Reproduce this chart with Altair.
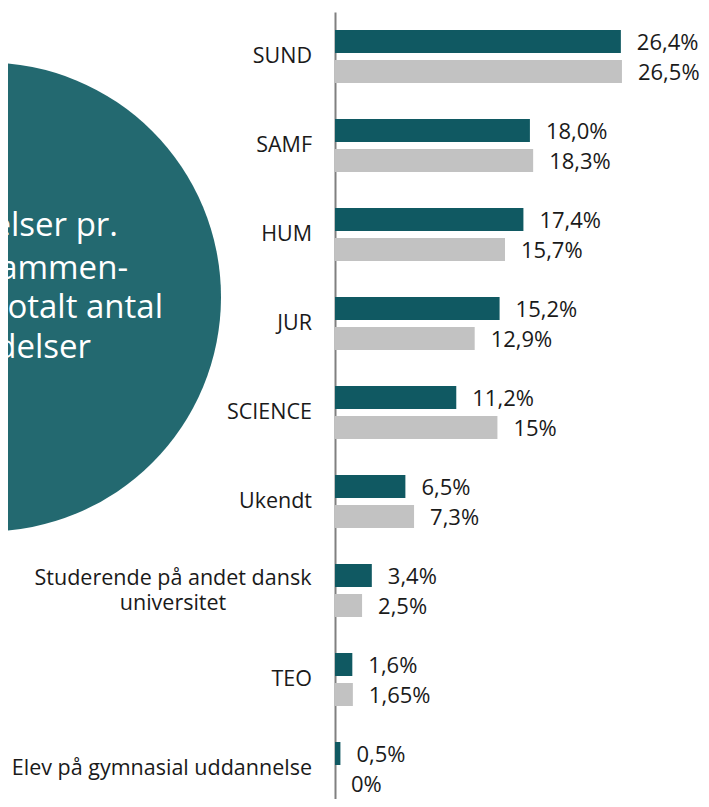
import altair as alt
import pandas as pd

categories = ["SUND", "SAMF", "HUM", "JUR", "SCIENCE", "Ukendt",
              "Studerende på andet dansk universitet", "TEO",
              "Elev på gymnasial uddannelse"]
series_a = [26.4, 18.0, 17.4, 15.2, 11.2, 6.5, 3.4, 1.6, 0.5]
labels_a = ["26,4%", "18,0%", "17,4%", "15,2%", "11,2%", "6,5%", "3,4%", "1,6%", "0,5%"]
series_b = [26.5, 18.3, 15.7, 12.9, 15.0, 7.3, 2.5, 1.65, 0.0]
labels_b = ["26,5%", "18,3%", "15,7%", "12,9%", "15%", "7,3%", "2,5%", "1,65%", "0%"]
circle_lines = ["elser pr.", "ammen-", "otalt antal", "delser"]
two_line_cat = "Studerende på andet dansk universitet"
two_line_text = ["Studerende på andet dansk", "universitet"]

df = pd.DataFrame({"cat": categories, "a": series_a, "la": labels_a,
                   "b": series_b, "lb": labels_b})

TEAL = "#105962"
GREY = "#c2c2c2"
CIRCLE = "#236970"
TXT = "#1a1a1a"
FONT = "Open Sans"

x_scale = alt.Scale(domain=[0, 33.8], nice=False, zero=True)
y_scale = alt.Scale(domain=categories, range=[0, 801], paddingInner=0, paddingOuter=0)

base = alt.Chart(df)
X = lambda f: alt.X(f, scale=x_scale, axis=None)
Y = alt.Y("cat:N", scale=y_scale, sort=categories,
          axis=alt.Axis(labels=False, ticks=False, title=None, grid=False,
                        domainColor="#808080", domainWidth=2))

R = 234.4
circle = alt.Chart(pd.DataFrame({"k": [0]})).mark_circle(
    color=CIRCLE, opacity=1, size=(2 * R) ** 2
).encode(x=alt.value(-348.4), y=alt.value(285))

circle_text_layers = []
rights = [-217, -207, -172, -244]
bases = [224, 267, 306, 346]
for line, rx, by in zip(circle_lines, rights, bases):
    circle_text_layers.append(
        alt.Chart(pd.DataFrame({"k": [0]})).mark_text(
            align="right", baseline="alphabetic", font=FONT, fontSize=33, color="white"
        ).encode(x=alt.value(rx), y=alt.value(by), text=alt.value(line))
    )

bars_a = base.mark_bar(color=TEAL, size=23, yOffset=-15).encode(x=X("a:Q"), y=Y)
bars_b = base.mark_bar(color=GREY, size=23, yOffset=15).encode(x=X("b:Q"), y=Y)

lab_a = base.mark_text(align="left", baseline="middle", dx=16, dy=-14,
                       font=FONT, fontSize=22, color=TXT).encode(
    x=X("a:Q"), y=Y, text="la:N")
lab_b = base.mark_text(align="left", baseline="middle", dx=16, dy=16,
                       font=FONT, fontSize=22, color=TXT).encode(
    x=X("b:Q"), y=Y, text="lb:N")

cat_single = base.transform_filter(
    alt.datum.cat != two_line_cat
).mark_text(align="right", baseline="middle", font=FONT, fontSize=21.5, color=TXT).encode(
    x=alt.value(-23), y=Y, text="cat:N")

cat_double = base.transform_filter(
    alt.datum.cat == two_line_cat
).mark_text(align="center", baseline="middle", font=FONT, fontSize=21.5, color=TXT,
            lineHeight=25, dy=-12).encode(
    x=alt.value(-162), y=Y, text=alt.value(two_line_text))

chart = alt.layer(
    circle, *circle_text_layers, bars_a, bars_b, lab_a, lab_b, cat_single, cat_double
).properties(
    width=366, height=787,
    autosize=alt.AutoSizeParams(type="none"),
    padding={"left": 327, "top": 4, "right": 0, "bottom": 0},
).configure_view(stroke=None)

chart.save("out.html", embed_options={"renderer": "svg", "actions": False})
